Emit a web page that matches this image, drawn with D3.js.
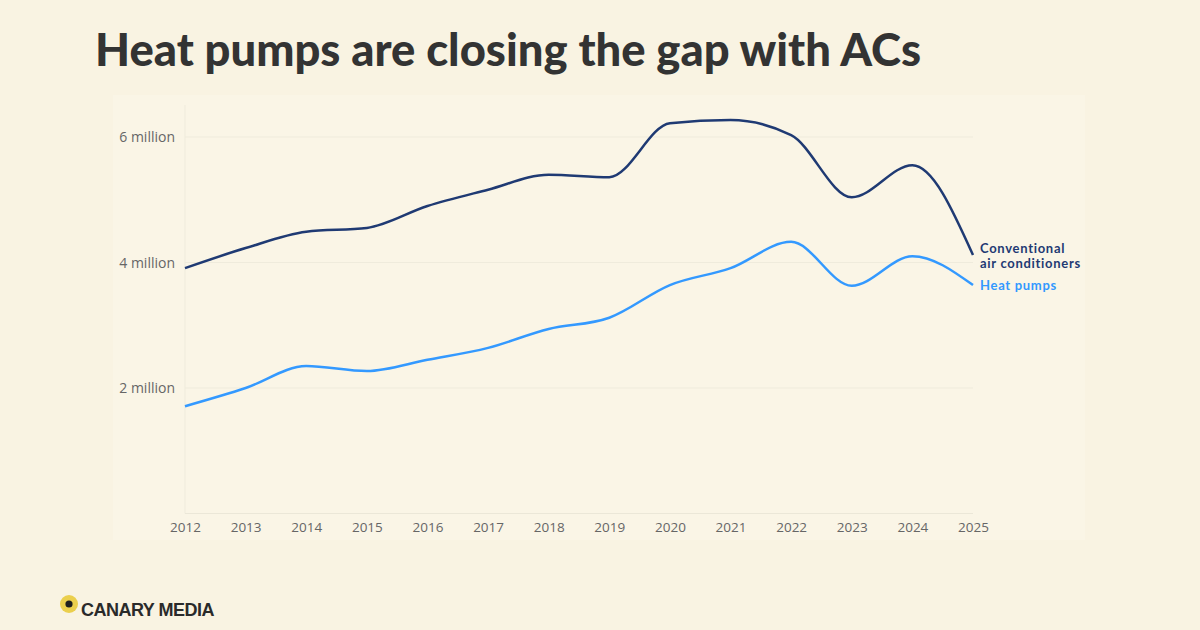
<!DOCTYPE html>
<html><head><meta charset="utf-8">
<script src="https://cdn.jsdelivr.net/npm/d3@7"></script>
<style>
html,body{margin:0;padding:0;background:#f9f3e2;}
svg{display:block;}
</style></head>
<body>
<svg id="chart" width="1200" height="630"></svg>
<script>
const years = [2012,2013,2014,2015,2016,2017,2018,2019,2020,2021,2022,2023,2024,2025];
const acValues = [3.91,4.23,4.49,4.55,4.90,5.16,5.40,5.36,6.22,6.27,6.03,5.04,5.55,4.12];
const hpValues = [1.71,2.00,2.35,2.27,2.45,2.64,2.94,3.12,3.64,3.91,4.33,3.63,4.10,3.64];
const yTicks = [2,4,6];
const yTickLabels = ["2 million","4 million","6 million"];
const seriesNames = [["Conventional","air conditioners"],["Heat pumps"]];
const title = "Heat pumps are closing the gap with ACs";

const svg = d3.select("#chart");
svg.append("rect").attr("width",1200).attr("height",630).attr("fill","#f9f3e2");
svg.append("rect").attr("x",113).attr("y",95).attr("width",972).attr("height",445).attr("fill","#faf5e6");

const t = svg.append("text").attr("x",95).attr("y",66)
  .attr("font-family","Lato, 'Open Sans', sans-serif").attr("font-weight",900)
  .attr("font-size",46).attr("fill","#333333").text(title);
t.attr("textLength",826).attr("lengthAdjust","spacingAndGlyphs");

const x = d3.scaleLinear().domain([2012,2025]).range([185,973]);
const y = d3.scaleLinear().domain([0,6]).range([513.5,137]);

const g = svg.append("g");
g.selectAll("line.h").data(yTicks).join("line")
  .attr("x1",185).attr("x2",973).attr("y1",d=>y(d)).attr("y2",d=>y(d))
  .attr("stroke","#efebdc").attr("stroke-width",1);
g.append("line").attr("x1",185).attr("x2",185).attr("y1",105).attr("y2",y(0))
  .attr("stroke","#efebdc");
g.append("line").attr("x1",185).attr("x2",973).attr("y1",y(0)).attr("y2",y(0))
  .attr("stroke","#ebe7d8");

svg.selectAll("text.yl").data(yTicks).join("text")
  .attr("x",175).attr("y",d=>y(d)+5).attr("text-anchor","end")
  .attr("font-family","'Open Sans', Lato, sans-serif").attr("font-size",14)
  .attr("fill","#666").text((d,i)=>yTickLabels[i]);

const xa = svg.append("g").attr("transform",`translate(0,${y(0)})`)
  .call(d3.axisBottom(x).tickValues(years).tickFormat(d3.format("d")).tickSize(0).tickPadding(9));
xa.select(".domain").remove();
xa.selectAll("text").attr("font-family","'Open Sans', Lato, sans-serif").attr("font-size",13.5).attr("fill","#666");

const line = d3.line().x((d,i)=>x(years[i])).y(d=>y(d)).curve(d3.curveMonotoneX);
const colors = ["#1f3a73","#3399ff"];
[acValues,hpValues].forEach((vals,k)=>{
  svg.append("path").attr("d",line(vals)).attr("fill","none")
    .attr("stroke",colors[k]).attr("stroke-width",2.5).attr("stroke-linejoin","round");
});

const lab = svg.append("g").attr("font-family","Lato, 'Open Sans', sans-serif").attr("font-weight",700)
  .attr("font-size",13).attr("letter-spacing",0.7);
lab.append("text").attr("x",980).attr("y",253).attr("fill",colors[0]).text(seriesNames[0][0]);
lab.append("text").attr("x",980).attr("y",268).attr("fill",colors[0]).text(seriesNames[0][1]);
lab.append("text").attr("x",980).attr("y",290).attr("fill",colors[1]).text(seriesNames[1][0]);

svg.append("circle").attr("cx",69).attr("cy",604).attr("r",9).attr("fill","#ebcf4d");
svg.append("circle").attr("cx",69).attr("cy",604).attr("r",3.6).attr("fill","#1e1e1e");
svg.append("text").attr("x",81).attr("y",616).attr("font-family","'Liberation Sans', Arial, sans-serif")
  .attr("font-weight",700).attr("font-size",18).attr("fill","#2a2a2a").attr("letter-spacing",-0.5)
  .text("CANARY MEDIA");
</script>
</body></html>
